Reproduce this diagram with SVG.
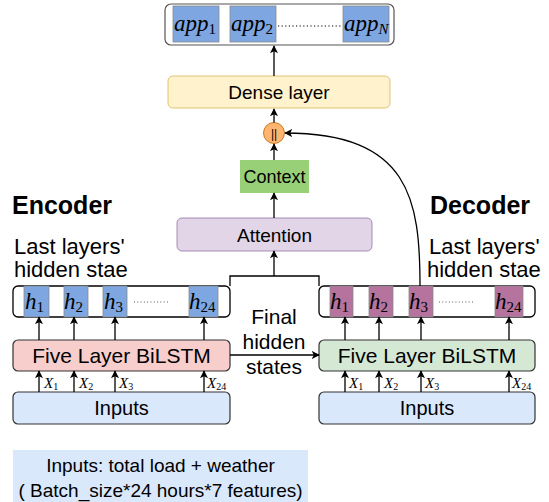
<svg xmlns="http://www.w3.org/2000/svg" width="549" height="502" viewBox="0 0 549 502">
<defs>
<style>
.t{font-family:"Liberation Sans",Arial,sans-serif;fill:#000}
.m{font-family:"Liberation Serif","Times New Roman",serif;font-style:italic;fill:#000}
.s{font-style:normal}
.c{stroke:#000;stroke-width:1.3;fill:none}
.box{stroke:#333;stroke-width:1.2}
.hb{stroke:#8a8a8a;stroke-width:0.8}
</style>
<marker id="a" viewBox="0 0 10 10" refX="9" refY="5" markerWidth="8" markerHeight="8" markerUnits="userSpaceOnUse" orient="auto">
<path d="M0,0 L10,5 L0,10 L2.5,5 z" fill="#000"/>
</marker>
</defs>
<rect width="549" height="502" fill="#fff"/>

<g id="output">
<rect x="165" y="4" width="229" height="41" rx="6" fill="#fff" stroke="#555" stroke-width="1.2"/>
<rect x="173" y="6" width="46" height="36" fill="#7ea6e0" stroke="#8a8a8a" stroke-width="0.8"/>
<rect x="230" y="6" width="46" height="36" fill="#7ea6e0" stroke="#8a8a8a" stroke-width="0.8"/>
<rect x="343" y="6" width="46" height="36" fill="#7ea6e0" stroke="#8a8a8a" stroke-width="0.8"/>
<text class="m" x="174" y="31" font-size="23">app<tspan class="s" font-size="15" dy="3">1</tspan></text>
<text class="m" x="231" y="31" font-size="23">app<tspan class="s" font-size="15" dy="3">2</tspan></text>
<text class="m" x="344" y="31" font-size="23">app<tspan font-size="15" dy="3">N</tspan></text>
<line x1="278" y1="26" x2="342" y2="26" stroke="#000" stroke-width="1.2" stroke-dasharray="1.2 2.4"/>
</g>

<g id="dense">
<rect x="168" y="76" width="222" height="32" rx="5" fill="#fff2cc" stroke="#d6b656" stroke-width="0.8"/>
<text class="t" x="279" y="99" font-size="19" text-anchor="middle">Dense layer</text>
</g>

<g id="concat">
<circle cx="274" cy="133" r="10.5" fill="#ffb570" stroke="#b46504" stroke-width="0.8"/>
<text class="t" x="274" y="137.5" font-size="12" text-anchor="middle">||</text>
</g>

<g id="context">
<rect x="240" y="160" width="69" height="33" fill="#97d077"/>
<text class="t" x="274.5" y="183" font-size="18" text-anchor="middle">Context</text>
</g>

<g id="attention">
<rect x="177" y="218" width="195" height="33" rx="5" fill="#e1d5e7" stroke="#9673a6" stroke-width="0.8"/>
<text class="t" x="274.5" y="241.5" font-size="19" text-anchor="middle">Attention</text>
</g>

<g id="encoder-title">
<text class="t" x="12" y="214" font-size="25" font-weight="bold">Encoder</text>
<text class="t" x="14" y="254" font-size="22">Last layers'</text>
<text class="t" x="14" y="277" font-size="22">hidden stae</text>
</g>

<g id="decoder-title">
<text class="t" x="430" y="214" font-size="25" font-weight="bold">Decoder</text>
<text class="t" x="429" y="254" font-size="22">Last layers'</text>
<text class="t" x="427" y="277" font-size="22">hidden stae</text>
</g>

<g id="enc-hidden">
<rect x="13" y="286" width="217" height="31" rx="5" fill="#fff" stroke="#000" stroke-width="1.3"/>
<rect x="24" y="286" width="25" height="31" fill="#7ea6e0" class="hb"/>
<rect x="64" y="286" width="24" height="31" fill="#7ea6e0" class="hb"/>
<rect x="103" y="286" width="24" height="31" fill="#7ea6e0" class="hb"/>
<rect x="189" y="286" width="29" height="31" fill="#7ea6e0" class="hb"/>
<text class="m" x="25" y="309" font-size="23">h<tspan class="s" font-size="15" dy="3">1</tspan></text>
<text class="m" x="64" y="309" font-size="23">h<tspan class="s" font-size="15" dy="3">2</tspan></text>
<text class="m" x="104" y="309" font-size="23">h<tspan class="s" font-size="15" dy="3">3</tspan></text>
<text class="m" x="189" y="309" font-size="23">h<tspan class="s" font-size="15" dy="3">24</tspan></text>
<line x1="134" y1="302" x2="168" y2="302" stroke="#333" stroke-width="0.9" stroke-dasharray="0.9 2.4"/>
</g>

<g id="dec-hidden">
<rect x="319" y="286" width="216" height="31" rx="5" fill="#fff" stroke="#000" stroke-width="1.3"/>
<rect x="330" y="286" width="23" height="31" fill="#b5739d" class="hb"/>
<rect x="369" y="286" width="24" height="31" fill="#b5739d" class="hb"/>
<rect x="409" y="286" width="24" height="31" fill="#b5739d" class="hb"/>
<rect x="495" y="286" width="28" height="31" fill="#b5739d" class="hb"/>
<text class="m" x="330" y="309" font-size="23">h<tspan class="s" font-size="15" dy="3">1</tspan></text>
<text class="m" x="369" y="309" font-size="23">h<tspan class="s" font-size="15" dy="3">2</tspan></text>
<text class="m" x="409" y="309" font-size="23">h<tspan class="s" font-size="15" dy="3">3</tspan></text>
<text class="m" x="495" y="309" font-size="23">h<tspan class="s" font-size="15" dy="3">24</tspan></text>
<line x1="439" y1="302" x2="474" y2="302" stroke="#333" stroke-width="0.9" stroke-dasharray="0.9 2.4"/>
</g>

<g id="enc-lstm">
<rect x="13" y="340" width="217" height="31" rx="5" fill="#f8cecc" class="box"/>
<text class="t" x="121.5" y="363" font-size="21" text-anchor="middle">Five Layer BiLSTM</text>
</g>

<g id="dec-lstm">
<rect x="319" y="340" width="216" height="31" rx="5" fill="#d5e8d4" class="box"/>
<text class="t" x="427" y="363" font-size="21" text-anchor="middle">Five Layer BiLSTM</text>
</g>

<g id="enc-inputs">
<rect x="13" y="392" width="217" height="32" rx="5" fill="#dae8fc" class="box"/>
<text class="t" x="121.5" y="415" font-size="20" text-anchor="middle">Inputs</text>
</g>

<g id="dec-inputs">
<rect x="319" y="392" width="216" height="32" rx="5" fill="#dae8fc" class="box"/>
<text class="t" x="427" y="415" font-size="20" text-anchor="middle">Inputs</text>
</g>

<g id="x-labels">
<text class="m" x="44" y="388" font-size="15">X<tspan class="s" font-size="10" dy="2">1</tspan></text>
<text class="m" x="79" y="388" font-size="15">X<tspan class="s" font-size="10" dy="2">2</tspan></text>
<text class="m" x="119" y="388" font-size="15">X<tspan class="s" font-size="10" dy="2">3</tspan></text>
<text class="m" x="207" y="388" font-size="15">X<tspan class="s" font-size="10" dy="2">24</tspan></text>
<text class="m" x="349" y="388" font-size="15">X<tspan class="s" font-size="10" dy="2">1</tspan></text>
<text class="m" x="384" y="388" font-size="15">X<tspan class="s" font-size="10" dy="2">2</tspan></text>
<text class="m" x="425" y="388" font-size="15">X<tspan class="s" font-size="10" dy="2">3</tspan></text>
<text class="m" x="512" y="388" font-size="15">X<tspan class="s" font-size="10" dy="2">24</tspan></text>
</g>

<g id="final-label">
<text class="t" x="274" y="324" font-size="21" text-anchor="middle">Final</text>
<text class="t" x="274" y="349" font-size="21" text-anchor="middle">hidden</text>
<text class="t" x="274" y="374" font-size="21" text-anchor="middle">states</text>
</g>

<g id="legend">
<rect x="13" y="450" width="295" height="52" fill="#dae8fc"/>
<text class="t" x="160.5" y="472" font-size="19" text-anchor="middle">Inputs: total load + weather</text>
<text class="t" x="160.5" y="497" font-size="19" text-anchor="middle">( Batch_size*24 hours*7 features)</text>
</g>

<g id="connectors">
<path class="c" d="M274,76 V46" marker-end="url(#a)"/>
<path class="c" d="M274,122.5 V109" marker-end="url(#a)"/>
<path class="c" d="M274,160 V144" marker-end="url(#a)"/>
<path class="c" d="M274,218 V193" marker-end="url(#a)"/>
<path class="c" d="M230,286 V276 H319 V286"/>
<path class="c" d="M274,276 V251" marker-end="url(#a)"/>
<path class="c" d="M420,286 C420,200 410,133 285,133" marker-end="url(#a)"/>
<path class="c" d="M230,355 H319" marker-end="url(#a)"/>
<path class="c" d="M39,340 V317" marker-end="url(#a)"/>
<path class="c" d="M74,340 V317" marker-end="url(#a)"/>
<path class="c" d="M115,340 V317" marker-end="url(#a)"/>
<path class="c" d="M204,340 V317" marker-end="url(#a)"/>
<path class="c" d="M39,392 V371" marker-end="url(#a)"/>
<path class="c" d="M74,392 V371" marker-end="url(#a)"/>
<path class="c" d="M115,392 V371" marker-end="url(#a)"/>
<path class="c" d="M204,392 V371" marker-end="url(#a)"/>
<path class="c" d="M345,340 V317" marker-end="url(#a)"/>
<path class="c" d="M379,340 V317" marker-end="url(#a)"/>
<path class="c" d="M421,340 V317" marker-end="url(#a)"/>
<path class="c" d="M509,340 V317" marker-end="url(#a)"/>
<path class="c" d="M345,392 V371" marker-end="url(#a)"/>
<path class="c" d="M379,392 V371" marker-end="url(#a)"/>
<path class="c" d="M421,392 V371" marker-end="url(#a)"/>
<path class="c" d="M509,392 V371" marker-end="url(#a)"/>
</g>
</svg>
